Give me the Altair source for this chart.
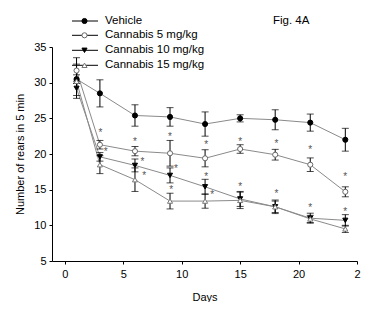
import altair as alt
import pandas as pd

days = [1, 3, 6, 9, 12, 15, 18, 21, 24]
series_names = ["Vehicle", "Cannabis 5 mg/kg", "Cannabis 10 mg/kg", "Cannabis 15 mg/kg"]
vehicle = [30.5, 28.5, 25.4, 25.2, 24.2, 25.0, 24.8, 24.4, 22.0]
vehicle_err = [0.6, 1.9, 1.5, 1.3, 1.7, 0.5, 1.4, 1.2, 1.6]
c5 = [31.7, 21.3, 20.4, 20.1, 19.4, 20.7, 19.9, 18.5, 14.7]
c5_err = [1.8, 0.6, 0.65, 1.8, 1.2, 0.6, 0.75, 0.95, 0.7]
c10 = [29.2, 19.6, 18.4, 17.0, 15.4, 13.7, 12.6, 11.0, 10.7]
c10_err = [1.0, 0.6, 0.9, 1.05, 1.05, 1.05, 0.95, 0.7, 0.8]
c15 = [30.2, 18.5, 16.4, 13.4, 13.4, 13.5, 12.6, 10.9, 9.5]
c15_err = [2.4, 1.25, 1.65, 1.1, 1.0, 1.15, 0.8, 0.5, 0.5]

ast_day = [3.05, 3.5, 6.0, 6.65, 6.8, 9.0, 9.5, 9.1, 12.1, 12.1, 12.6, 15.0, 15.0, 18.1, 18.1, 21.0, 21.0, 24.0, 24.0]
ast_val = [23.2, 20.6, 22.0, 19.2, 17.2, 22.6, 18.2, 15.3, 21.6, 17.1, 14.5, 21.9, 15.7, 21.7, 14.7, 20.9, 12.7, 17.0, 12.1]

x_ticks = [0, 5, 10, 15, 20, 25]
y_ticks = [5, 10, 15, 20, 25, 30, 35]

shapes = ["circle", "circle", "triangle-down", "triangle-up"]
fills = ["#000000", "#ffffff", "#000000", "#ffffff"]
strokes = ["#000000", "#666666", "#000000", "#777777"]

rows = []
for name, vals, errs in zip(series_names, [vehicle, c5, c10, c15],
                            [vehicle_err, c5_err, c10_err, c15_err]):
    for d, v, e in zip(days, vals, errs):
        rows.append({"series": name, "day": d, "value": v, "lo": v - e, "hi": v + e})
df = pd.DataFrame(rows)
ast_df = pd.DataFrame({"day": ast_day, "value": ast_val})

FONT = "Liberation Sans"
xs = alt.Scale(domain=[-1.1, 25], nice=False, zero=False)
ys = alt.Scale(domain=[5, 35], nice=False, zero=False)

x_axis = alt.Axis(values=x_ticks, grid=False, tickSize=3,
                  labelExpr="datum.value == 25 ? '2' : datum.label",
                  labelOverlap=False, labelFlush=False, labelPadding=4, titlePadding=12)
y_axis = alt.Axis(values=y_ticks, grid=False, tickSize=3,
                  labelOverlap=False, labelFlush=False, labelPadding=3, titlePadding=8)


def X(field):
    return alt.X(field, scale=xs, title="Days", axis=x_axis)


def Y(field):
    return alt.Y(field, scale=ys, title="Number of rears in 5 min", axis=y_axis)


base = alt.Chart(df)
lines = base.mark_line(color="#8a8a8a", strokeWidth=1).encode(
    x=X("day:Q"), y=Y("value:Q"), detail="series:N", order="day:Q")
err = base.mark_rule(color="black", strokeWidth=1).encode(
    x=X("day:Q"), y=Y("lo:Q"), y2="hi:Q")
cap_hi = base.mark_tick(color="black", orient="horizontal", size=7, thickness=1).encode(
    x=X("day:Q"), y=Y("hi:Q"))
cap_lo = base.mark_tick(color="black", orient="horizontal", size=7, thickness=1).encode(
    x=X("day:Q"), y=Y("lo:Q"))
pts = base.mark_point(size=26, strokeWidth=1, opacity=1).encode(
    x=X("day:Q"), y=Y("value:Q"),
    shape=alt.Shape("series:N", scale=alt.Scale(domain=series_names, range=shapes), legend=None),
    fill=alt.Fill("series:N", scale=alt.Scale(domain=series_names, range=fills), legend=None),
    stroke=alt.Stroke("series:N", scale=alt.Scale(domain=series_names, range=strokes), legend=None))
asts = alt.Chart(ast_df).mark_text(text="*", fontSize=10, font=FONT, fill="#555555",
                                   baseline="middle", dy=2).encode(
    x=X("day:Q"), y=Y("value:Q"))

one = pd.DataFrame({"a": [0]})
legend_layers = []
row_y = [-26, -11.7, 3.3, 18.3]
for i, name in enumerate(series_names):
    yv = row_y[i]
    legend_layers.append(alt.Chart(one).mark_rule(color="black", strokeWidth=1).encode(
        x=alt.value(20), x2=alt.value(46), y=alt.value(yv)))
    legend_layers.append(alt.Chart(one).mark_point(
        shape=shapes[i], fill=fills[i], stroke=strokes[i], size=26, strokeWidth=1,
        opacity=1, filled=False).encode(x=alt.value(32.5), y=alt.value(yv)))
    legend_layers.append(alt.Chart(one).mark_text(
        text=name, align="left", baseline="middle", fontSize=11.5, font=FONT,
        fill="black").encode(x=alt.value(53), y=alt.value(yv)))
legend_layers.append(alt.Chart(one).mark_text(
    text="Fig. 4A", align="left", baseline="middle", fontSize=11.5, font=FONT,
    fill="black").encode(x=alt.value(221), y=alt.value(-26)))

chart = alt.layer(lines, err, cap_hi, cap_lo, pts, asts, *legend_layers).properties(
    width=305, height=214,
    autosize=alt.AutoSizeParams(type="none"),
    padding={"left": 44, "top": 39, "right": 15, "bottom": 41},
    background="white",
).configure_view(stroke=None).configure_axis(
    labelOverlap=False, domainColor="black", tickColor="black",
    labelFontSize=11, titleFontSize=11, titleFontWeight="normal",
    labelFont=FONT, titleFont=FONT, labelColor="black", titleColor="black")

chart.save("out.html", embed_options={"renderer": "svg", "actions": False})
